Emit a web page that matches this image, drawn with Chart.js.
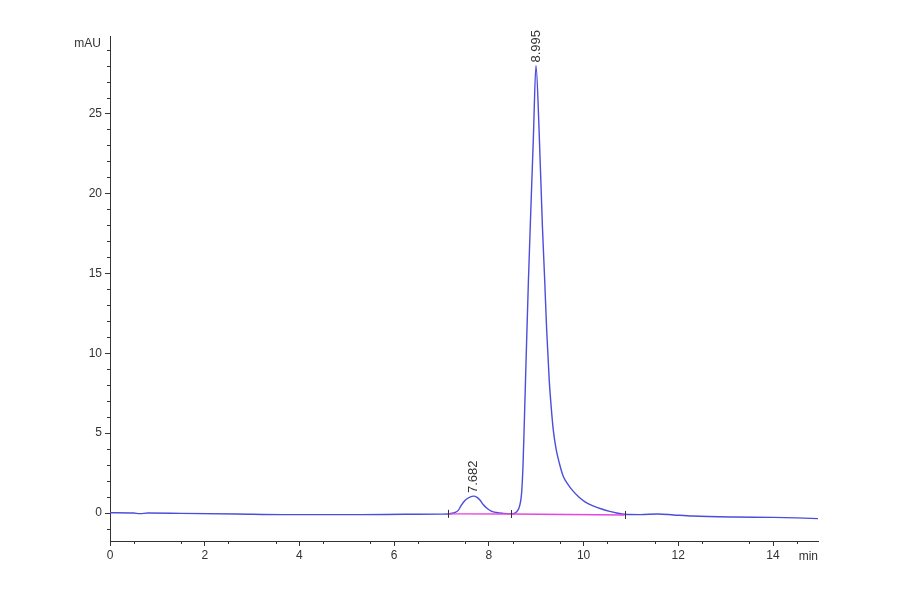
<!DOCTYPE html>
<html>
<head>
<meta charset="utf-8">
<script src="https://cdn.jsdelivr.net/npm/chart.js@4"></script>
<style>
    html, body { margin: 0; padding: 0; background: #fff; }
    #wrap { width: 900px; height: 594px; position: relative; }
</style>
</head>
<body>
<div id="wrap"><canvas id="chromChart"></canvas></div>
<script>
// ===== DATA =====
const times = [
    0, 0.5, 0.63, 0.8, 1.5, 2.67, 3.66, 4.5, 5.3, 6.2, 7.0,
    7.14, 7.25, 7.35, 7.42, 7.5, 7.6, 7.682, 7.75, 7.82, 7.88, 7.96, 8.05, 8.16, 8.3, 8.48,
    8.55, 8.6, 8.65, 8.69, 8.72, 8.75, 8.79, 8.835, 8.89, 8.94, 8.995,
    9.06, 9.13, 9.18, 9.22, 9.275, 9.32, 9.36, 9.42, 9.49, 9.57, 9.67, 9.77, 9.9, 10.03, 10.2, 10.38, 10.55, 10.7, 10.87,
    11.2, 11.57, 11.9, 12.3, 13.16, 14.0, 14.5, 14.95
];
const signal = [
    0.02, 0.0, -0.04, 0.0, -0.02, -0.06, -0.1, -0.1, -0.1, -0.08, -0.07,
    -0.06, 0.0, 0.15, 0.5, 0.8, 1.0, 1.06, 0.98, 0.78, 0.53, 0.3, 0.12, 0.03, -0.02, -0.05,
    0.0, 0.12, 0.45, 1.2, 2.9, 5.8, 10.0, 14.5, 19.3, 23.5, 28.0,
    24.0, 18.0, 14.5, 11.5, 8.3, 6.5, 5.2, 4.0, 3.1, 2.3, 1.8, 1.4, 1.0, 0.7, 0.45, 0.25, 0.1, 0.0, -0.08,
    -0.1, -0.06, -0.12, -0.19, -0.25, -0.27, -0.3, -0.35
];

// integration baseline (start / split / end)
const baseTimes = [7.14, 8.46, 10.87];
const baseValues = [-0.05, -0.06, -0.12];

const peakTimes = [7.682, 8.995];
const peakHeights = [1.06, 28.0];
const peakLabels = ["7.682", "8.995"];

const xTicks = [0, 2, 4, 6, 8, 10, 12, 14];
const yTicks = [0, 5, 10, 15, 20, 25];
const xRange = [0, 14.95];
const yRange = [-1.75, 29.85];

const FONT = "Liberation Sans, Arial, sans-serif";
const INK = "#333";

// ===== PLUGIN: minor ticks, unit labels, peak labels =====
const decor = {
    id: "decor",
    afterDraw(chart) {
        const ctx = chart.ctx;
        const x = chart.scales.x;
        const y = chart.scales.y;
        const area = chart.chartArea;

        ctx.save();
        ctx.strokeStyle = INK;
        ctx.lineWidth = 1;

        // minor ticks every 0.5 min / 1 mAU
        for (let t = 0.5; t < xRange[1]; t += 1) {
            const px = Math.round(x.getPixelForValue(t)) + 0.5;
            ctx.beginPath();
            ctx.moveTo(px, area.bottom);
            ctx.lineTo(px, area.bottom + 3);
            ctx.stroke();
        }
        for (let v = -1; v < yRange[1]; v += 1) {
            if (v % 5 === 0) continue;
            const py = Math.round(y.getPixelForValue(v)) + 0.5;
            ctx.beginPath();
            ctx.moveTo(area.left - 3, py);
            ctx.lineTo(area.left, py);
            ctx.stroke();
        }

        // baseline tick marks
        baseTimes.forEach((t, i) => {
            const px = Math.round(x.getPixelForValue(t)) + 0.5;
            const py = y.getPixelForValue(baseValues[i]);
            ctx.beginPath();
            ctx.moveTo(px, py - 4);
            ctx.lineTo(px, py + 4);
            ctx.stroke();
        });

        // unit labels
        ctx.fillStyle = INK;
        ctx.font = "12px " + FONT;
        ctx.textAlign = "right";
        ctx.textBaseline = "middle";
        ctx.fillText("mAU", area.left - 9, 44);
        ctx.fillText("min", area.right, 557);

        // peak retention time labels, rotated
        ctx.font = "13px " + FONT;
        ctx.textAlign = "left";
        peakTimes.forEach((t, i) => {
            const px = x.getPixelForValue(t);
            const py = y.getPixelForValue(peakHeights[i]);
            ctx.save();
            ctx.translate(px, py - 3);
            ctx.rotate(-Math.PI / 2);
            ctx.fillText(peakLabels[i], 0, 0);
            ctx.restore();
        });

        ctx.restore();
    }
};

new Chart(document.getElementById("chromChart"), {
    type: "scatter",
    data: {
        datasets: [
            {
                label: "Baseline",
                data: baseTimes.map((t, i) => ({ x: t, y: baseValues[i] })),
                showLine: true,
                borderColor: "#e846e0",
                borderWidth: 1.4,
                pointRadius: 0
            },
            {
                label: "Signal",
                data: times.map((t, i) => ({ x: t, y: signal[i] })),
                showLine: true,
                borderColor: "#4d4ddb",
                borderWidth: 1.4,
                pointRadius: 0,
                cubicInterpolationMode: "monotone"
            }
        ]
    },
    options: {
        responsive: true,
        maintainAspectRatio: false,
        animation: false,
        layout: { padding: { left: 0, top: 36, right: 82, bottom: 0 } },
        plugins: {
            legend: { display: false },
            tooltip: { enabled: false }
        },
        scales: {
            x: {
                type: "linear",
                min: xRange[0],
                max: xRange[1],
                afterBuildTicks: s => { s.ticks = xTicks.map(v => ({ value: v })); },
                afterFit: s => { s.height = 53; },
                ticks: { color: INK, font: { size: 12, family: FONT }, padding: 2, maxRotation: 0 },
                grid: { drawOnChartArea: false, tickLength: 5, color: INK },
                border: { color: INK }
            },
            y: {
                type: "linear",
                min: yRange[0],
                max: yRange[1],
                afterBuildTicks: s => { s.ticks = yTicks.map(v => ({ value: v })); },
                afterFit: s => { s.width = 110; },
                ticks: { color: INK, font: { size: 12, family: FONT }, padding: 3 },
                grid: { drawOnChartArea: false, tickLength: 5, color: INK },
                border: { color: INK }
            }
        }
    },
    plugins: [decor]
});
</script>
</body>
</html>
